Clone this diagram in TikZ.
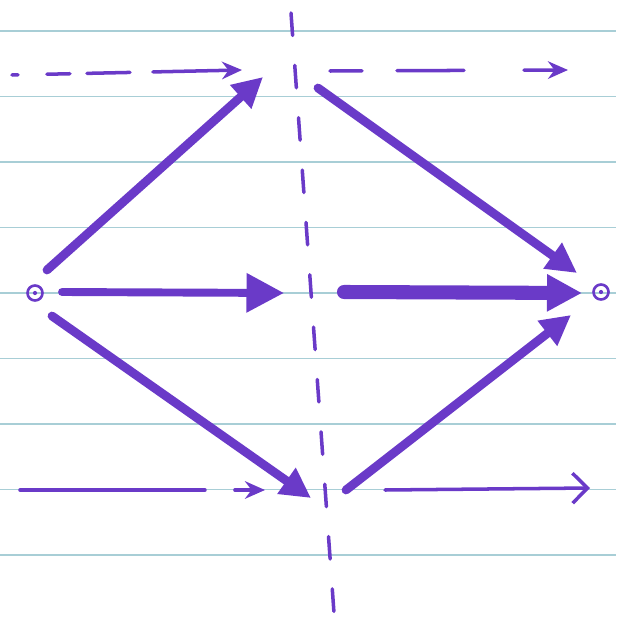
\documentclass[tikz,border=0pt]{standalone}
\usepackage{xcolor}
\usetikzlibrary{arrows.meta, calc}
\definecolor{ink}{RGB}{106, 58, 200}
\definecolor{rule}{RGB}{168, 206, 214}

\begin{document}
\begin{tikzpicture}[
    x=0.02cm, y=-0.02cm,
    ruling/.style={draw=rule, line width=0.9pt},
    pen/.style={draw=ink, line cap=round},
    fatarrow/.style={pen, line width=5pt, -{Triangle[length=6mm, width=6mm]}},
    hintline/.style={pen, line width=2pt},
    axisline/.style={pen, line width=2pt, dash pattern=on 0.45cm off 0.6cm},
    terminal/.style={circle, draw=ink, line width=1.5pt, minimum size=0.3cm, inner sep=0pt,
        path picture={\fill[ink] (path picture bounding box.center) circle (1.2pt);}}
]
\useasboundingbox (0,0) rectangle (616,618);

% ruled paper
\foreach \i in {0,...,8}
    \draw[ruling] (0,{31+65.5*\i}) -- (616,{31+65.5*\i});

% end points
\node[terminal] (src) at (35,293) {};
\node[terminal] (dst) at (601,292) {};

% mirror axis
\coordinate (axtop) at (291,13);
\coordinate (axbot) at (334,613);
\draw[axisline] (axtop) -- (axbot);

% guide arrows
\coordinate (tl0) at (12,75);
\coordinate (tl1) at (242,70);
\coordinate (tr0) at (330,71);
\coordinate (tr1) at (568,70);
\coordinate (bl0) at (20,490);
\coordinate (bl1) at (265,490);
\coordinate (br0) at (385,490);
\coordinate (br1) at (590,488);
\draw[hintline, dash pattern=on 0.12cm off 0.58cm on 0.46cm off 0.34cm on 0.86cm off 0.46cm on 3cm off 0cm, -{Stealth[length=4mm, width=3.5mm]}] (tl0) -- (tl1);
\draw[hintline, dash pattern=on 0.64cm off 0.7cm on 1.34cm off 1.2cm on 3cm off 0cm, -{Stealth[length=4mm, width=3.5mm]}] (tr0) -- (tr1);
\draw[hintline, dash pattern=on 3.7cm off 0.6cm, -{Stealth[length=4mm, width=3.5mm]}] (bl0) -- (bl1);
\draw[hintline, -{Straight Barb[length=3mm, width=6mm]}] (br0) -- (br1);

% rays into the axis
\coordinate (a0) at (47,270);
\coordinate (a1) at (263,77);
\coordinate (b0) at (62,292);
\coordinate (b1) at (284,293);
\coordinate (c0) at (52,316);
\coordinate (c1) at (311,498);
\draw[fatarrow] (a0) -- (a1);
\draw[fatarrow, line width=4.5pt, -{Triangle[length=7.5mm, width=7.5mm]}] (b0) -- (b1);
\draw[fatarrow] (c0) -- (c1);

% rays out of the axis
\coordinate (d0) at (318,88);
\coordinate (d1) at (577,273);
\coordinate (e0) at (344,292);
\coordinate (e1) at (582,293);
\coordinate (f0) at (346,490);
\coordinate (f1) at (571,315);
\draw[fatarrow] (d0) -- (d1);
\draw[fatarrow, line width=8pt, -{Triangle[length=7mm, width=7mm]}] (e0) -- (e1);
\draw[fatarrow] (f0) -- (f1);
\end{tikzpicture}
\end{document}
